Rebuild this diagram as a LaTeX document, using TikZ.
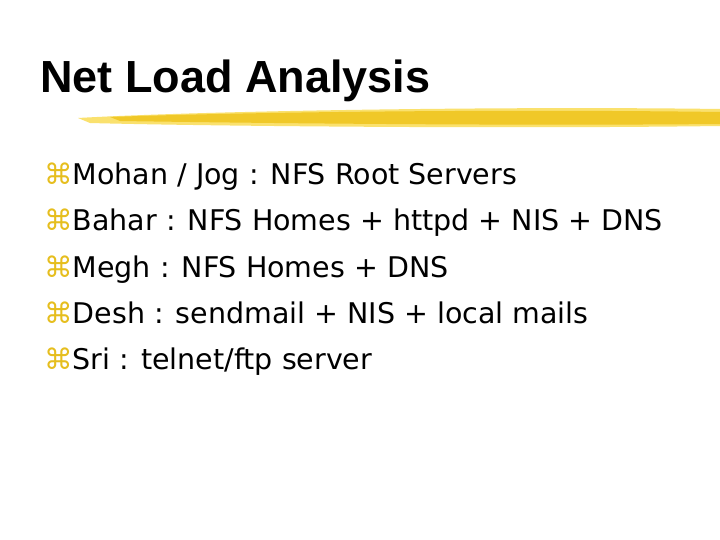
\documentclass[tikz,border=0pt]{standalone}
\usepackage{fontspec}
\setmainfont{DejaVu Sans}
\newfontfamily\titlefont{Liberation Sans}
\definecolor{brush}{RGB}{240,200,40}
\definecolor{brushl}{RGB}{250,225,110}
\definecolor{bul}{RGB}{230,190,30}
\tikzset{item/.style={anchor=base west,inner sep=0pt,font=\fontsize{28.5}{30}\selectfont}}
\begin{document}
\begin{tikzpicture}[x=1pt,y=-1pt]
\useasboundingbox[fill=white] (0,0) rectangle (720,540);
\node[anchor=base west,inner sep=0pt,font=\titlefont\bfseries\fontsize{45}{48}\selectfont] (title) at (40,93) {Net Load Analysis};
\fill[brushl] (78,118) .. controls (200,111) and (500,106) .. (720,109) -- (720,126) .. controls (500,129) and (200,126) .. (90,123) -- cycle;
\fill[brush] (110,117) .. controls (250,112) and (500,109) .. (720,112) -- (720,124) .. controls (500,126) and (250,123) .. (120,121) -- cycle;
\node[item] (b1) at (44,185) {\textcolor{bul}{⌘}Mohan / Jog : NFS Root Servers};
\node[item] (b2) at (44,230) {\textcolor{bul}{⌘}Bahar : NFS Homes + httpd + NIS + DNS};
\node[item] (b3) at (44,277) {\textcolor{bul}{⌘}Megh : NFS Homes + DNS};
\node[item] (b4) at (44,323) {\textcolor{bul}{⌘}Desh : sendmail + NIS + local mails};
\node[item] (b5) at (44,369) {\textcolor{bul}{⌘}Sri : telnet/ftp server};
\end{tikzpicture}
\end{document}
